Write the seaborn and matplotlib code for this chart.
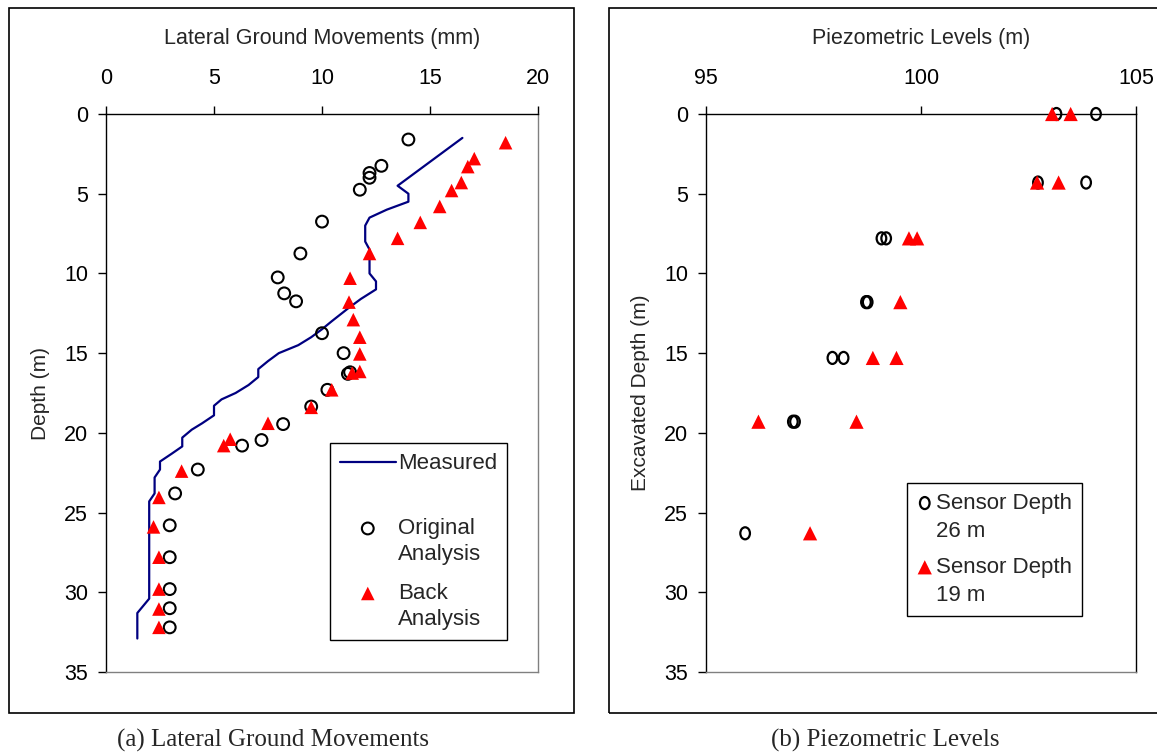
import numpy as np
import pandas as pd
import matplotlib
matplotlib.use("Agg")
import matplotlib.pyplot as plt
import seaborn as sns
from matplotlib.path import Path
from matplotlib.transforms import Affine2D
from matplotlib.patches import Rectangle

# ---------------- data: (a) lateral ground movements ----------------
measured_mm = [16.5, 14.5, 13.5, 14.0, 14.0, 13.0, 12.2, 12.0, 12.0, 12.2, 12.2, 12.5, 12.5,
               11.8, 11.2, 10.45, 10.0, 9.5, 8.9, 8.0, 7.5, 7.05, 7.05, 6.6, 6.0, 5.35, 5.0,
               5.0, 4.45, 3.97, 3.53, 3.53, 3.05, 2.5, 2.5, 2.25, 2.25, 2.0, 2.0, 1.45, 1.45]
measured_depth = [1.5, 3.5, 4.5, 5.0, 5.5, 6.0, 6.5, 7.0, 8.0, 8.5, 10.0, 10.5, 11.0,
                  11.6, 12.2, 13.0, 13.5, 14.0, 14.5, 15.0, 15.5, 16.0, 16.5, 17.0, 17.5, 17.9, 18.3,
                  18.9, 19.4, 19.8, 20.3, 20.85, 21.3, 21.8, 22.3, 22.8, 23.8, 24.3, 30.4, 31.3, 32.9]

original_mm = [14.0, 12.75, 12.2, 12.2, 11.75, 10.0, 9.0, 7.95, 8.25, 8.8, 10.0, 11.0, 11.2,
               11.3, 10.25, 9.5, 8.2, 7.2, 6.3, 4.25, 3.2, 2.95, 2.95, 2.95, 2.95, 2.95]
original_depth = [1.6, 3.25, 3.7, 4.0, 4.75, 6.75, 8.75, 10.25, 11.25, 11.75, 13.75, 15.0, 16.3,
                  16.2, 17.3, 18.35, 19.45, 20.45, 20.8, 22.3, 23.8, 25.8, 27.8, 29.8, 31.0, 32.2]

back_mm = [18.5, 17.05, 16.75, 16.45, 16.0, 15.45, 14.55, 13.5, 12.2, 11.3, 11.25, 11.45, 11.75,
           11.75, 11.75, 11.4, 10.45, 9.5, 7.5, 5.75, 5.45, 3.5, 2.45, 2.2, 2.45, 2.45, 2.45, 2.45]
back_depth = [1.8, 2.8, 3.3, 4.3, 4.8, 5.8, 6.8, 7.8, 8.75, 10.3, 11.8, 12.9, 14.0,
              15.05, 16.15, 16.25, 17.3, 18.4, 19.4, 20.4, 20.8, 22.4, 24.05, 25.9, 27.8, 29.8, 31.05, 32.2]

# ---------------- data: (b) piezometric levels ----------------
s26_level = [103.15, 104.07, 102.72, 103.84, 99.08, 99.19, 98.72, 98.76, 97.94, 98.2,
             97.02, 97.07, 95.91]
s26_depth = [0.0, 0.0, 4.3, 4.3, 7.8, 7.8, 11.8, 11.8, 15.3, 15.3, 19.3, 19.3, 26.3]

s19_level = [103.05, 103.48, 102.7, 103.2, 99.72, 99.91, 99.52, 98.88, 99.43, 96.22, 98.5, 97.42]
s19_depth = [0.0, 0.0, 4.3, 4.3, 7.8, 7.8, 11.8, 15.3, 15.3, 19.3, 19.3, 26.3]

# ---------------- style ----------------
sns.set_theme(style="white")
plt.rcParams['font.family'] = ['Liberation Sans', 'DejaVu Sans']
plt.rcParams['axes.linewidth'] = 1.0

W, H = 1157, 755
fig = plt.figure(figsize=(W / 100, H / 100), dpi=100)

def fx(px):
    return px / W

def fy(py):
    return 1 - py / H

# outer frames
fig.patches.append(Rectangle((fx(9), fy(713)), fx(574) - fx(9), fy(8) - fy(713),
                             transform=fig.transFigure, fill=False, ec='black', lw=1.2))
fig.patches.append(Rectangle((fx(609), fy(713)), fx(1170) - fx(609), fy(8) - fy(713),
                             transform=fig.transFigure, fill=False, ec='black', lw=1.2))

ax1 = fig.add_axes([fx(106), fy(672), fx(538) - fx(106), fy(114) - fy(672)])
ax2 = fig.add_axes([fx(706), fy(672), fx(1136) - fx(706), fy(114) - fy(672)])

TICK_FS = 15.5
LAB_FS = 15.5
YLAB_FS = 15
LEG_FS = 16

def style_axes(ax, xlim, xticks, xlabel, ylabel, right_color):
    ax.set_xlim(*xlim)
    ax.set_ylim(35, 0)
    ax.set_xticks(xticks)
    ax.set_yticks(range(0, 36, 5))
    ax.xaxis.tick_top()
    ax.xaxis.set_label_position('top')
    ax.tick_params(axis='both', direction='out', length=6, width=1, colors='black',
                   labelsize=TICK_FS)
    ax.tick_params(axis='x', pad=12, bottom=False, top=True)
    ax.tick_params(axis='y', pad=7, left=True, right=False)
    ax.set_xlabel(xlabel, fontsize=LAB_FS, labelpad=17)
    ax.set_ylabel(ylabel, fontsize=YLAB_FS, labelpad=10)
    for s in ['top', 'left']:
        ax.spines[s].set_color('black')
        ax.spines[s].set_linewidth(1.0)
    ax.spines['bottom'].set_color('#808080')
    ax.spines['right'].set_color(right_color)
    for s in ['bottom', 'right']:
        ax.spines[s].set_linewidth(1.0)
        ax.spines[s].set_visible(True)
    ax.set_facecolor('white')

def top_align_legend(leg, linespacing):
    for t in leg.get_texts():
        t.set_linespacing(linespacing)
    try:
        for col in leg._legend_handle_box.get_children():
            for item in col.get_children():
                item.align = 'top'
    except Exception:
        pass

# ---- panel (a)
sns.lineplot(x=measured_mm, y=measured_depth, sort=False, estimator=None, ax=ax1,
             color='#000080', linewidth=1.6, label='Measured\n ')
sns.scatterplot(x=original_mm, y=original_depth, ax=ax1, marker='o', s=72,
                color='black', facecolor='none', edgecolor='black', linewidth=1.5,
                label='Original\nAnalysis', zorder=3)
sns.scatterplot(x=back_mm, y=back_depth, ax=ax1, marker='^', s=95,
                color='#FF0000', edgecolor='none', linewidth=0,
                label='Back\nAnalysis', zorder=4)
style_axes(ax1, (0, 20), [0, 5, 10, 15, 20], 'Lateral Ground Movements (mm)', 'Depth (m)', '#808080')

leg1 = ax1.legend(loc='upper left', bbox_to_anchor=(0.5185, 0.41), fontsize=LEG_FS,
                  frameon=True, fancybox=False, edgecolor='black', framealpha=1,
                  labelspacing=0.82, handlelength=2.5, handleheight=1.1, handletextpad=0.1,
                  borderpad=0.45, borderaxespad=0)
leg1.get_frame().set_linewidth(1.0)
top_align_legend(leg1, 1.3)

# ---- panel (b)
ellipse = Path.unit_circle().transformed(Affine2D().scale(0.8, 1.0))
sns.scatterplot(x=s26_level, y=s26_depth, ax=ax2, marker=ellipse, s=75,
                color='black', facecolor='none', edgecolor='black', linewidth=1.6,
                label='Sensor Depth\n26 m', zorder=3, clip_on=False)
sns.scatterplot(x=s19_level, y=s19_depth, ax=ax2, marker='^', s=105,
                color='#FF0000', edgecolor='none', linewidth=0,
                label='Sensor Depth\n19 m', zorder=4, clip_on=False)
style_axes(ax2, (95, 105), [95, 100, 105], 'Piezometric Levels (m)', 'Excavated Depth (m)', 'black')

leg2 = ax2.legend(loc='upper left', bbox_to_anchor=(0.4674, 0.339), fontsize=LEG_FS,
                  frameon=True, fancybox=False, edgecolor='black', framealpha=1,
                  labelspacing=0.67, handlelength=0.7, handleheight=1.1, handletextpad=0.15,
                  borderpad=0.45, borderaxespad=0)
leg2.get_frame().set_linewidth(1.0)
top_align_legend(leg2, 1.46)

# captions
fig.text(fx(273), fy(740), '(a) Lateral Ground Movements', ha='center', va='center',
         fontsize=18, family=['Liberation Serif', 'DejaVu Serif'])
fig.text(fx(885), fy(740), '(b) Piezometric Levels', ha='center', va='center',
         fontsize=18, family=['Liberation Serif', 'DejaVu Serif'])

fig.savefig('out.png', dpi=100, facecolor='white')
